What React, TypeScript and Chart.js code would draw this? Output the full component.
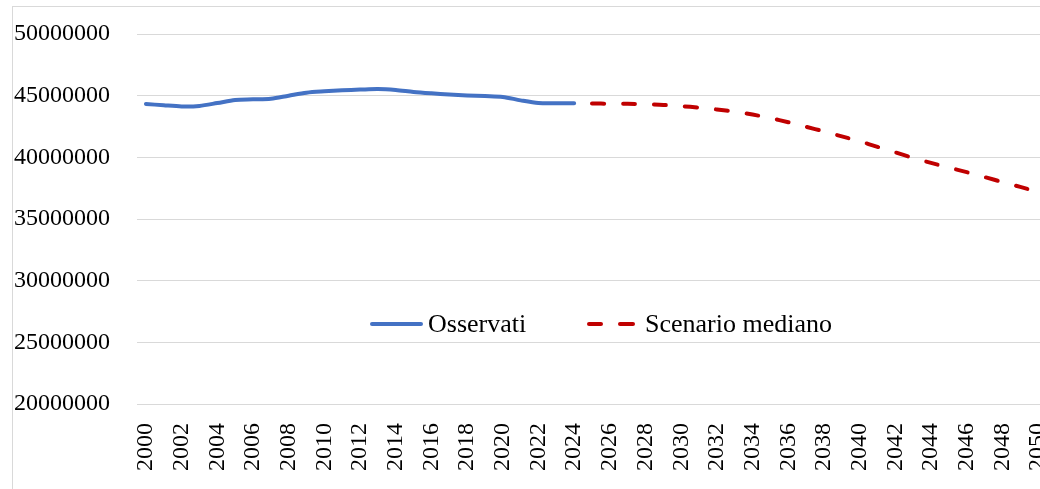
import React, { useEffect, useRef } from "react";
import { Chart, registerables } from "chart.js";

Chart.register(...registerables);

const years: string[] = [
  "2000", "2001", "2002", "2003", "2004", "2005", "2006", "2007", "2008", "2009",
  "2010", "2011", "2012", "2013", "2014", "2015", "2016", "2017", "2018", "2019",
  "2020", "2021", "2022", "2023", "2024", "2025", "2026", "2027", "2028", "2029",
  "2030", "2031", "2032", "2033", "2034", "2035", "2036", "2037", "2038", "2039",
  "2040", "2041", "2042", "2043", "2044", "2045", "2046", "2047", "2048", "2049",
  "2050",
];

// 2000–2024
const osservati: number[] = [
  44330000, 44220000, 44130000, 44170000, 44400000, 44650000, 44700000, 44750000,
  45000000, 45240000, 45350000, 45430000, 45490000, 45540000, 45460000, 45300000,
  45190000, 45100000, 45020000, 44970000, 44900000, 44620000, 44400000, 44380000,
  44380000,
];

// 2025–2050
const scenarioMediano: number[] = [
  44360000, 44350000, 44340000, 44300000, 44250000, 44150000, 44030000, 43880000,
  43700000, 43470000, 43180000, 42850000, 42480000, 42100000, 41700000, 41300000,
  40850000, 40400000, 39950000, 39550000, 39170000, 38800000, 38400000, 38000000,
  37600000, 37200000,
];

const yTicks: number[] = [20000000, 25000000, 30000000, 35000000, 40000000, 45000000, 50000000];

const seriesNames = ["Osservati", "Scenario mediano"];

const BLUE = "#4472C4";
const RED = "#C00000";
const FONT = "'Liberation Serif', 'Times New Roman', serif";

export default function App() {
  const canvasRef = useRef<HTMLCanvasElement | null>(null);

  useEffect(() => {
    if (!canvasRef.current) return;
    const obsData: (number | null)[] = years.map((_, i) => (i < osservati.length ? osservati[i] : null));
    const scenData: (number | null)[] = years.map((_, i) =>
      i >= osservati.length ? scenarioMediano[i - osservati.length] : null
    );
    const chart = new Chart(canvasRef.current, {
      type: "line",
      data: {
        labels: years,
        datasets: [
          {
            label: seriesNames[0],
            data: obsData,
            borderColor: BLUE,
            borderWidth: 4,
            pointRadius: 0,
            tension: 0.3,
            borderCapStyle: "round",
            borderJoinStyle: "round",
            spanGaps: false,
          },
          {
            label: seriesNames[1],
            data: scenData,
            borderColor: RED,
            borderWidth: 4,
            pointRadius: 0,
            tension: 0.3,
            borderDash: [12, 19],
            borderCapStyle: "round",
            borderJoinStyle: "round",
            spanGaps: false,
          },
        ],
      },
      options: {
        responsive: false,
        animation: false,
        layout: { padding: { top: 34, left: 0, right: 0, bottom: 0 } },
        plugins: {
          legend: { display: false },
          tooltip: { enabled: false },
        },
        scales: {
          x: {
            offset: true,
            grid: { display: false, drawTicks: false },
            border: { display: false },
            ticks: {
              autoSkip: false,
              maxRotation: 90,
              minRotation: 90,
              padding: 19,
              color: "#000",
              font: { family: FONT, size: 24 },
              callback: (_v: any, i: number) => (i % 2 === 0 ? years[i] : ""),
            },
            afterFit: (s: any) => {
              s.height = 85;
              s.paddingLeft = 0;
              s.paddingRight = 0;
              s.paddingTop = 0;
              s.paddingBottom = 0;
            },
          },
          y: {
            min: yTicks[0],
            max: yTicks[yTicks.length - 1],
            grid: { color: "#d9d9d9", lineWidth: 1, drawTicks: false },
            border: { display: false },
            afterBuildTicks: (s: any) => {
              s.ticks = yTicks.map((v) => ({ value: v }));
            },
            ticks: {
              padding: 27,
              color: "#000",
              font: { family: FONT, size: 24 },
              callback: (v: any) => String(v),
            },
            afterFit: (s: any) => {
              s.width = 137;
              s.paddingTop = 0;
              s.paddingBottom = 0;
              s.paddingLeft = 0;
              s.paddingRight = 0;
            },
          },
        },
      },
    });
    return () => chart.destroy();
  }, []);

  const legendText: React.CSSProperties = {
    position: "absolute",
    top: 311,
    fontFamily: FONT,
    fontSize: 26,
    lineHeight: "26px",
    color: "#000",
    whiteSpace: "nowrap",
  };
  const seg = (left: number, width: number, color: string): React.CSSProperties => ({
    position: "absolute",
    left,
    top: 322,
    width,
    height: 4,
    borderRadius: 2,
    background: color,
  });

  return (
    <div
      style={{
        position: "fixed",
        left: 0,
        top: 0,
        width: 1040,
        height: 489,
        overflow: "hidden",
        background: "#fff",
      }}
    >
      <div
        style={{
          position: "absolute",
          left: 12,
          top: 6,
          width: 1100,
          height: 600,
          borderLeft: "1px solid #d9d9d9",
          borderTop: "1px solid #d9d9d9",
        }}
      />
      <canvas
        ref={canvasRef}
        width={1047}
        height={489}
        style={{ position: "absolute", left: 0, top: 0, display: "block" }}
      />
      <div style={seg(370, 53, BLUE)} />
      <span style={{ ...legendText, left: 428 }}>{seriesNames[0]}</span>
      <div style={seg(587, 16, RED)} />
      <div style={seg(618, 17, RED)} />
      <span style={{ ...legendText, left: 645 }}>{seriesNames[1]}</span>
    </div>
  );
}
